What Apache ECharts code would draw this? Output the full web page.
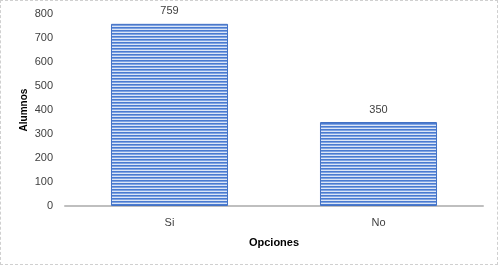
<!DOCTYPE html>
<html><head><meta charset="utf-8">
<script src="https://cdn.jsdelivr.net/npm/echarts@6/dist/echarts.min.js"></script>
<style>
html,body{margin:0;padding:0;background:#fff;}
#c{position:absolute;left:0;top:0;width:498px;height:265px;}
#b{position:absolute;left:0;top:0;width:496px;height:263px;border:1px dashed #d0d0d0;pointer-events:none;}
</style></head>
<body><div id="c"></div><div id="b"></div>
<script>
const categories = ['Si', 'No'];
const values = [759, 350];
const yTicks = [0, 100, 200, 300, 400, 500, 600, 700, 800];

const pc = document.createElement('canvas');
pc.width = 4; pc.height = 3;
const g = pc.getContext('2d');
g.fillStyle = '#4a7bd0'; g.fillRect(0, 0, 4, 1);
g.fillStyle = '#7fa3e2'; g.fillRect(0, 1, 4, 1);
g.fillStyle = '#dce6f6'; g.fillRect(0, 2, 4, 1);

const chart = echarts.init(document.getElementById('c'));
const font = "'Liberation Sans', Arial, sans-serif";
chart.setOption({
  animation: false,
  grid: {left: 65, right: 15, top: 14, bottom: 59},
  xAxis: {
    type: 'category', data: categories,
    name: 'Opciones', nameLocation: 'middle', nameGap: 31, nameMoveOverlap: false,
    nameTextStyle: {fontFamily: font, fontSize: 11, fontWeight: 'bold', color: '#000'},
    axisLine: {lineStyle: {color: '#bfbfbf', width: 2}},
    axisTick: {show: false},
    axisLabel: {fontFamily: font, fontSize: 11, color: '#404040', margin: 11}
  },
  yAxis: {
    type: 'value', min: yTicks[0], max: yTicks[yTicks.length - 1], interval: 100,
    name: 'Alumnos', nameLocation: 'middle', nameGap: 36, nameMoveOverlap: false,
    nameTextStyle: {fontFamily: font, fontSize: 10, fontWeight: 'bold', color: '#000'},
    axisLine: {show: false}, axisTick: {show: false}, splitLine: {show: false},
    axisLabel: {fontFamily: font, fontSize: 11, color: '#404040', margin: 12}
  },
  series: [{
    type: 'bar', data: values, barWidth: '56%',
    itemStyle: {color: {image: pc, repeat: 'repeat'}, borderColor: '#4472c4', borderWidth: 1},
    label: {show: true, position: 'top', distance: 7, fontFamily: font, fontSize: 11, color: '#404040'}
  }]
});
</script></body></html>
